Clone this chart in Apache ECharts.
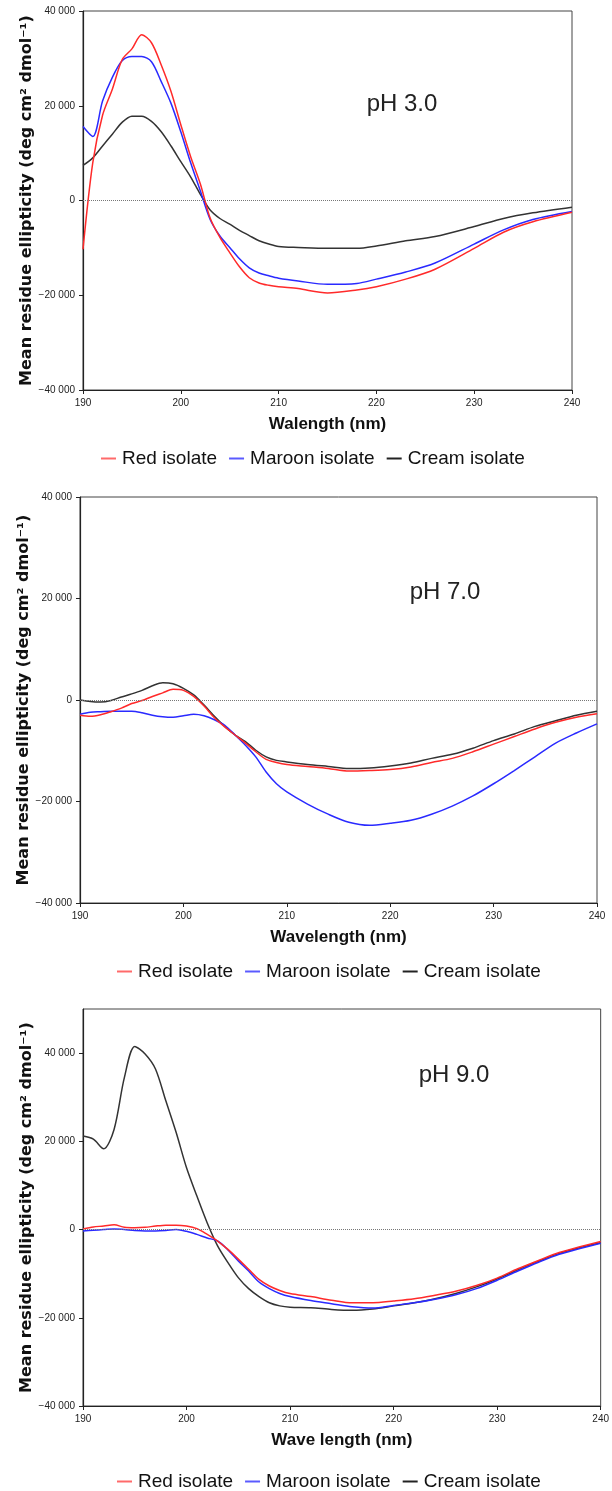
<!DOCTYPE html>
<html>
<head>
<meta charset="utf-8">
<script src="https://cdn.jsdelivr.net/npm/echarts@6/dist/echarts.min.js"></script>
<style>
html,body{margin:0;padding:0;background:#fff;}
#chart{width:612px;height:1491px;}
</style>
</head>
<body>
<div id="chart"></div>
<script>
// ---------- DATA ----------
const seriesNames = ['Red isolate', 'Maroon isolate', 'Cream isolate'];
const panelLabels = ['pH 3.0', 'pH 7.0', 'pH 9.0'];
const xAxisNames = ['Walength (nm)', 'Wavelength (nm)', 'Wave length (nm)'];
const yAxisName = 'Mean residue ellipticity (deg cm\u00B2 dmol\u207B\u00B9)';
const xTicks = [190, 200, 210, 220, 230, 240];

// pH 3.0
const wl1 = [190,191,192,193,194,195,196,197,198,199,200,201,202,203,204,205,206,207,208,209,210,212,215,218,220,223,226,230,233,236,240];
const red1 = [-10300,8000,18000,23500,29700,32000,35000,33300,28600,23000,16000,9300,3500,-3700,-7800,-11000,-14000,-16300,-17400,-17900,-18200,-18600,-19500,-18900,-18200,-16600,-14500,-10100,-6700,-4500,-2500];
const maroon1 = [15600,13500,21000,26000,29500,30400,30400,29300,25100,20500,14500,8000,2000,-4000,-7500,-9900,-12300,-14200,-15300,-15900,-16400,-17000,-17700,-17500,-16600,-15100,-13200,-9200,-6200,-4000,-2300];
const cream1 = [7400,9000,11500,14000,16500,17800,17800,16700,14500,11500,8200,5000,1300,-2000,-3800,-5000,-6300,-7400,-8500,-9200,-9700,-9900,-10100,-10100,-9600,-8500,-7600,-5500,-3800,-2600,-1400];

// pH 7.0
const wl2 = [190,191,192,193,194,195,196,197,198,199,200,201,202,203,204,205,206,207,208,209,210,212,214,216,218,220,222,224,226,228,230,232,234,236,238,240];
const red2 = [-3000,-3200,-2900,-2300,-1600,-700,-100,700,1400,2100,1900,700,-1200,-3500,-5300,-6900,-8500,-10200,-11700,-12300,-12700,-13100,-13500,-14000,-13900,-13700,-13200,-12300,-11500,-10200,-8700,-7200,-5700,-4400,-3400,-2700];
const maroon2 = [-2800,-2400,-2300,-2200,-2200,-2200,-2500,-3000,-3300,-3400,-3100,-2800,-3100,-3900,-5000,-6900,-8900,-11200,-14200,-16500,-18100,-20500,-22500,-24100,-24700,-24300,-23700,-22500,-20900,-18900,-16500,-13900,-11200,-8500,-6500,-4700];
const cream2 = [0,-300,-400,-100,600,1200,1900,2800,3400,3200,2300,1000,-1000,-3200,-5200,-6900,-8200,-9900,-11200,-11900,-12200,-12700,-13100,-13500,-13400,-13000,-12400,-11500,-10700,-9500,-8000,-6700,-5200,-4100,-3000,-2200];

// pH 9.0
const wl3 = [190,191,192,193,194,195,196,197,198,199,200,201,202,203,204,205,206,207,208,209,210,212,214,216,218,220,222,224,226,228,230,232,234,236,238,240];
const red3 = [150,600,800,1100,500,400,500,800,1000,1000,800,200,-1100,-2600,-4500,-6700,-9000,-11300,-12800,-13800,-14500,-15200,-16000,-16600,-16600,-16200,-15700,-14900,-14000,-12700,-11000,-8900,-7000,-5200,-3900,-2700];
const maroon3 = [-300,-150,0,150,0,-200,-300,-300,-200,0,-400,-1100,-1900,-2600,-4600,-7100,-9400,-11900,-13400,-14500,-15200,-16100,-16800,-17500,-17800,-17200,-16600,-15800,-14800,-13400,-11500,-9400,-7400,-5600,-4300,-3100];
const cream3 = [21200,20500,18300,22700,34500,41500,39800,36400,29200,22000,14000,7600,1500,-3700,-7500,-10900,-13400,-15200,-16600,-17300,-17600,-17700,-18100,-18300,-18000,-17300,-16600,-15700,-14500,-13000,-11200,-9100,-7200,-5400,-4100,-3000];

const yMin = [-40000, -40000, -40000];
const yMax = [40000, 40000, 50000];

// ---------- LAYOUT / STYLE ----------
const grids = [
  {left: 83, top: 11, width: 489, height: 379},
  {left: 80, top: 497, width: 517, height: 406},
  {left: 83, top: 1009, width: 519, height: 397}
];
const legendPos = [{left: 96, top: 444}, {left: 112, top: 957}, {left: 112, top: 1467}];
const phPos = [[402, 104], [445, 592], [454, 1075]];
const lineColors = ['#ff2a2a', '#2a2aff', '#333333'];
const legendColors = ['#ff6a6a', '#5a5aff', '#222222'];
const labelFont = '"Liberation Sans Narrow", "Liberation Sans", Arial, sans-serif';
const mainFont = '"Liberation Sans", Arial, sans-serif';

function fmtY(v) {
  if (v > 40000) return '';
  const s = Math.abs(v).toString().replace(/\B(?=(\d{3})+(?!\d))/g, ' ');
  return (v < 0 ? '\u2212' : '') + s;
}

const panels = [
  {wl: wl1, vals: [red1, maroon1, cream1]},
  {wl: wl2, vals: [red2, maroon2, cream2]},
  {wl: wl3, vals: [red3, maroon3, cream3]}
];

const xAxes = [], yAxes = [], series = [], legends = [], graphics = [];
panels.forEach((p, i) => {
  xAxes.push({
    gridIndex: i, type: 'value', min: xTicks[0], max: xTicks[xTicks.length - 1], interval: 10,
    name: xAxisNames[i], nameLocation: 'middle', nameGap: 26, nameMoveOverlap: false,
    nameTextStyle: {fontFamily: mainFont, fontWeight: 'bold', fontSize: 17, color: '#111'},
    axisLine: {show: true, onZero: false, lineStyle: {color: '#222', width: 1.2}},
    axisTick: {show: true, inside: false, length: 4, lineStyle: {color: '#222'}},
    axisLabel: {margin: 8, fontSize: 10, color: '#222', fontFamily: labelFont},
    splitLine: {show: false}
  });
  yAxes.push({
    gridIndex: i, type: 'value', min: yMin[i], max: yMax[i], interval: 20000,
    name: yAxisName, nameLocation: 'middle', nameRotate: 90, nameGap: 48, nameMoveOverlap: false,
    nameTextStyle: {fontFamily: '"DejaVu Sans", sans-serif', fontWeight: 'bold', fontSize: 16, color: '#111'},
    axisLine: {show: true, onZero: false, lineStyle: {color: '#222', width: 1.2}},
    axisTick: {show: true, inside: false, length: 4, lineStyle: {color: '#222'}},
    axisLabel: {margin: 8, fontSize: 10, color: '#222', fontFamily: labelFont, formatter: fmtY, showMaxLabel: i !== 2},
    splitLine: {show: false}
  });
  p.vals.forEach((arr, k) => {
    const s = {
      name: seriesNames[k], type: 'line', xAxisIndex: i, yAxisIndex: i,
      data: p.wl.map((w, j) => [w, arr[j]]),
      showSymbol: false, smooth: 0.3,
      lineStyle: {color: lineColors[k], width: 1.5}, itemStyle: {color: lineColors[k]},
      z: 3 - k
    };
    if (k === 2) {
      s.markLine = {
        silent: true, symbol: 'none', label: {show: false},
        lineStyle: {type: 'dotted', color: '#777', width: 1},
        data: [{yAxis: 0}], animation: false
      };
    }
    series.push(s);
  });
  legends.push({
    left: legendPos[i].left, top: legendPos[i].top, orient: 'horizontal',
    icon: 'rect', itemWidth: 15, itemHeight: 2, itemGap: 12, selectedMode: false,
    textStyle: {fontFamily: mainFont, fontSize: 19, color: '#111', padding: [0, 0, 0, 1]},
    data: seriesNames.map((n, k) => ({name: n, itemStyle: {color: legendColors[k]}}))
  });
  graphics.push({
    type: 'text', x: phPos[i][0], y: phPos[i][1],
    style: {text: panelLabels[i], font: '24px ' + mainFont, fill: '#222', textAlign: 'center', textVerticalAlign: 'middle'}
  });
});

const chart = echarts.init(document.getElementById('chart'), null, {renderer: 'canvas'});
chart.setOption({
  animation: false,
  backgroundColor: '#fff',
  grid: grids.map(g => Object.assign({show: true, borderColor: '#444', borderWidth: 1, backgroundColor: 'transparent'}, g)),
  xAxis: xAxes,
  yAxis: yAxes,
  legend: legends,
  graphic: graphics,
  series: series
});
</script>
</body>
</html>
